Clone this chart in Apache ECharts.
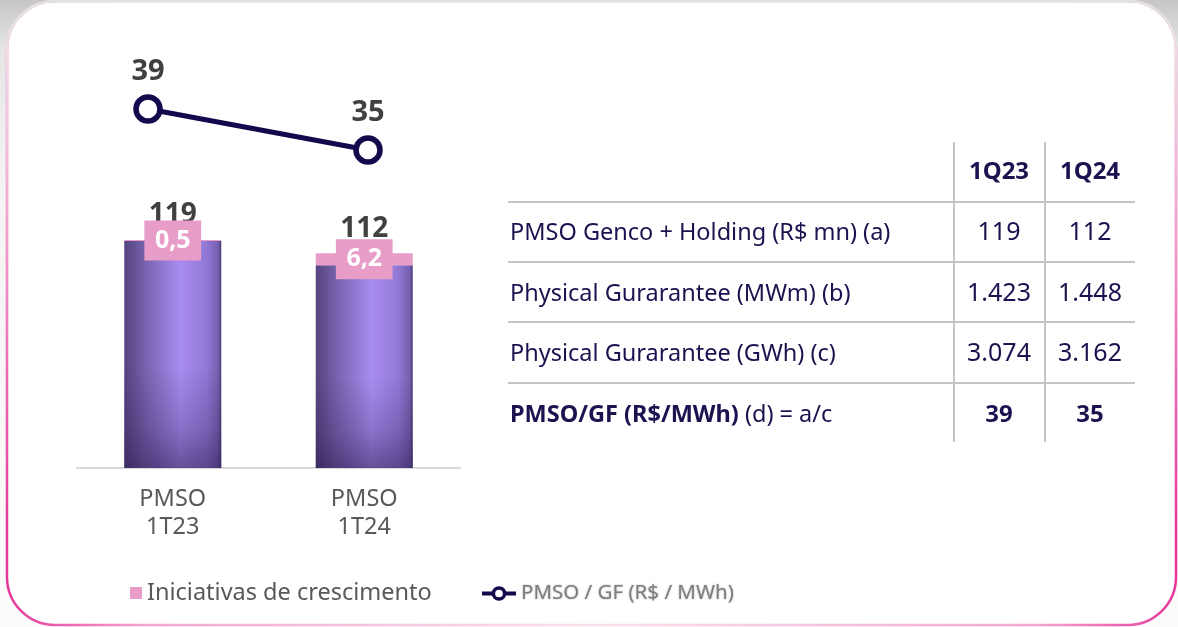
<!DOCTYPE html>
<html>
<head>
<meta charset="utf-8">
<script src="https://cdn.jsdelivr.net/npm/echarts@6/dist/echarts.min.js"></script>
<style>
  html, body { margin: 0; padding: 0; background: #ffffff; }
  #chart { width: 1178px; height: 627px; }
</style>
</head>
<body>
<div id="chart"></div>
<script>
// Bar chart: PMSO per quarter, with the growth-initiatives slice on top
const categories = ['PMSO\n1T23', 'PMSO\n1T24'];
const pmsoTotal = [119, 112];
const growthInitiatives = [0.5, 6.2];

// Line: PMSO / physical guarantee (R$/MWh)
const lineCategories = ['1T23', '1T24'];
const pmsoPerGF = [39, 35];

// Table
const tableColumns = ['1Q23', '1Q24'];
const rowLabels = [
  'PMSO Genco + Holding (R$ mn) (a)',
  'Physical Gurarantee (MWm) (b)',
  'Physical Gurarantee (GWh) (c)',
  '{b|PMSO/GF (R$/MWh)} (d) = a/c'
];
const gfMWm = ['1.423', '1.448'];
const gfGWh = ['3.074', '3.162'];

const seriesGrowthName = 'Iniciativas de crescimento';
const seriesLineName = 'PMSO / GF (R$ / MWh)';

const FONT = '"Noto Sans", "Open Sans", sans-serif';
const NAVY = '#1c124f';
const LINE_COLOR = '#16084d';

const baseValues = pmsoTotal.map((t, i) => +(t - growthInitiatives[i]).toFixed(1));
const tableRows = [
  pmsoTotal.map(String),
  gfMWm,
  gfGWh,
  pmsoPerGF.map(String)
];

// ---- table drawn with graphic elements ----
const colX = [999, 1090];
const rowY = [233, 294, 354, 415];
const headerY = 172;
const graphic = [];

// page background and card
graphic.push({
  type: 'rect', z: -20, silent: true,
  shape: { x: 0, y: 0, width: 1178, height: 627 },
  style: {
    fill: new echarts.graphic.LinearGradient(0, 0, 0, 1, [
      { offset: 0, color: '#c6c6c6' },
      { offset: 0.08, color: '#e6e6e6' },
      { offset: 0.3, color: '#f4f4f4' },
      { offset: 1, color: '#fbfbfb' }
    ])
  }
});
graphic.push({
  type: 'rect', z: -19, silent: true,
  shape: { x: 7, y: 1, width: 1169, height: 624, r: 48 },
  style: {
    fill: '#ffffff',
    stroke: new echarts.graphic.LinearGradient(0, 0, 1, 0, [
      { offset: 0, color: '#e8359b' },
      { offset: 0.12, color: '#f4a6d0' },
      { offset: 0.5, color: '#fbe0ee' },
      { offset: 0.88, color: '#f4a6d0' },
      { offset: 1, color: '#e8359b' }
    ]),
    lineWidth: 2.5
  }
});
graphic.push({
  type: 'rect', z: -18, silent: true,
  shape: { x: 7, y: 1, width: 1169, height: 624, r: 48 },
  style: {
    fill: 'transparent',
    stroke: new echarts.graphic.LinearGradient(0, 0, 0, 1, [
      { offset: 0, color: 'rgba(226,226,226,1)' },
      { offset: 0.08, color: 'rgba(240,240,240,0.9)' },
      { offset: 0.6, color: 'rgba(255,255,255,0.25)' },
      { offset: 0.85, color: 'rgba(255,255,255,0)' },
      { offset: 1, color: 'rgba(255,255,255,0)' }
    ]),
    lineWidth: 3
  }
});

// grid lines of the table
[202, 262, 322, 383].forEach(y => {
  graphic.push({
    type: 'line', silent: true,
    shape: { x1: 508, y1: y, x2: 1135, y2: y },
    style: { stroke: '#c4c4c4', lineWidth: 2 }
  });
});
[954, 1045].forEach(x => {
  graphic.push({
    type: 'line', silent: true,
    shape: { x1: x, y1: 142, x2: x, y2: 442 },
    style: { stroke: '#c4c4c4', lineWidth: 2 }
  });
});
tableColumns.forEach((c, j) => {
  graphic.push({
    type: 'text', silent: true,
    style: {
      text: c, x: colX[j], y: headerY, align: 'center', verticalAlign: 'middle',
      fill: NAVY, fontFamily: FONT, fontSize: 24, fontWeight: 'bold'
    }
  });
});
rowLabels.forEach((label, i) => {
  graphic.push({
    type: 'text', silent: true,
    style: {
      text: label, x: 510, y: rowY[i], align: 'left', verticalAlign: 'middle',
      fill: NAVY, fontFamily: FONT, fontSize: 23.5,
      rich: { b: { fill: NAVY, fontFamily: FONT, fontSize: 23.5, fontWeight: 'bold' } }
    }
  });
  tableRows[i].forEach((v, j) => {
    graphic.push({
      type: 'text', silent: true,
      style: {
        text: v, x: colX[j], y: rowY[i], align: 'center', verticalAlign: 'middle',
        fill: NAVY, fontFamily: FONT, fontSize: i === 3 ? 24 : 25,
        fontWeight: i === 3 ? 'bold' : 'normal'
      }
    });
  });
});

const barFill = new echarts.graphic.LinearGradient(0, 0, 1, 0, [
  { offset: 0, color: '#54437e' },
  { offset: 0.2, color: '#7561ab' },
  { offset: 0.58, color: '#a88df0' },
  { offset: 0.85, color: '#9278d6' },
  { offset: 0.97, color: '#7460ae' },
  { offset: 1, color: '#4a3a78' }
]);
const barShade = new echarts.graphic.LinearGradient(0, 0, 0, 1, [
  { offset: 0, color: 'rgba(35,20,70,0)' },
  { offset: 0.55, color: 'rgba(35,20,70,0)' },
  { offset: 0.82, color: 'rgba(35,20,70,0.22)' },
  { offset: 1, color: 'rgba(35,20,70,0.5)' }
]);

const chart = echarts.init(document.getElementById('chart'), null, { renderer: 'canvas' });
chart.setOption({
  animation: false,
  graphic: graphic,
  textStyle: { fontFamily: FONT },
  legend: [
    {
      data: [seriesGrowthName],
      left: 130, top: 581, padding: 0,
      itemWidth: 12, itemHeight: 12,
      icon: 'rect',
      textStyle: { fontFamily: FONT, fontSize: 23.5, color: '#595959' }
    },
    {
      data: [seriesLineName],
      left: 480, top: 583, padding: 0,
      itemWidth: 34, itemHeight: 14,
      lineStyle: { width: 4 },
      itemStyle: { borderWidth: 3.5 },
      textStyle: {
        fontFamily: FONT, fontSize: 20.5, color: '#7f7f7f',
        textShadowColor: 'rgba(128,128,128,0.7)', textShadowBlur: 2
      }
    }
  ],
  grid: [
    { left: 77, right: 718, top: 180.5, bottom: 159 },
    { left: 148, right: 810, top: 98.75, height: 102.5 }
  ],
  xAxis: [
    {
      gridIndex: 0, type: 'category', data: categories,
      axisTick: { show: false },
      axisLine: { lineStyle: { color: '#d9d9d9', width: 2 } },
      axisLabel: { fontFamily: FONT, fontSize: 23.5, lineHeight: 28, color: '#595959', margin: 17 }
    },
    { gridIndex: 1, type: 'category', data: lineCategories, boundaryGap: false, show: false }
  ],
  yAxis: [
    { gridIndex: 0, type: 'value', min: 0, max: 150, show: false, splitLine: { show: false } },
    { gridIndex: 1, type: 'value', min: 30, max: 40, show: false, splitLine: { show: false } }
  ],
  series: [
    {
      name: 'PMSO', type: 'bar', stack: 'pmso', xAxisIndex: 0, yAxisIndex: 0,
      barWidth: 97, data: baseValues,
      itemStyle: { color: barFill }
    },
    {
      name: seriesGrowthName, type: 'bar', stack: 'pmso', xAxisIndex: 0, yAxisIndex: 0,
      barWidth: 97, data: growthInitiatives,
      itemStyle: { color: '#e89cc8' },
      z: 4,
      label: {
        show: true, position: 'inside',
        formatter: p => String(p.value).replace('.', ','),
        color: '#ffffff', fontFamily: FONT, fontSize: 25, fontWeight: 'bold',
        backgroundColor: '#e89cc8', padding: [5, 10.5, 5, 10.5], lineHeight: 30
      }
    },
    {
      name: 'shade', type: 'bar', stack: 'shade', xAxisIndex: 0, yAxisIndex: 0,
      barWidth: 97, barGap: '-100%', data: baseValues, silent: true,
      itemStyle: { color: barShade }
    },
    {
      name: 'PMSO total', type: 'scatter', xAxisIndex: 0, yAxisIndex: 0,
      data: pmsoTotal, symbolSize: 1, silent: true, z: 3,
      itemStyle: { color: 'transparent', opacity: 1 },
      label: {
        show: true, position: 'top', distance: 10,
        color: '#404040', fontFamily: FONT, fontSize: 28, fontWeight: 'bold'
      }
    },
    {
      name: seriesLineName, type: 'line', xAxisIndex: 1, yAxisIndex: 1,
      data: pmsoPerGF,
      symbol: 'circle', symbolSize: 24,
      lineStyle: { color: LINE_COLOR, width: 5 },
      itemStyle: { color: '#ffffff', borderColor: LINE_COLOR, borderWidth: 5.5 },
      label: {
        show: true, position: 'top', distance: 8,
        color: '#404040', fontFamily: FONT, fontSize: 29, fontWeight: 'bold'
      }
    }
  ]
});
</script>
</body>
</html>
